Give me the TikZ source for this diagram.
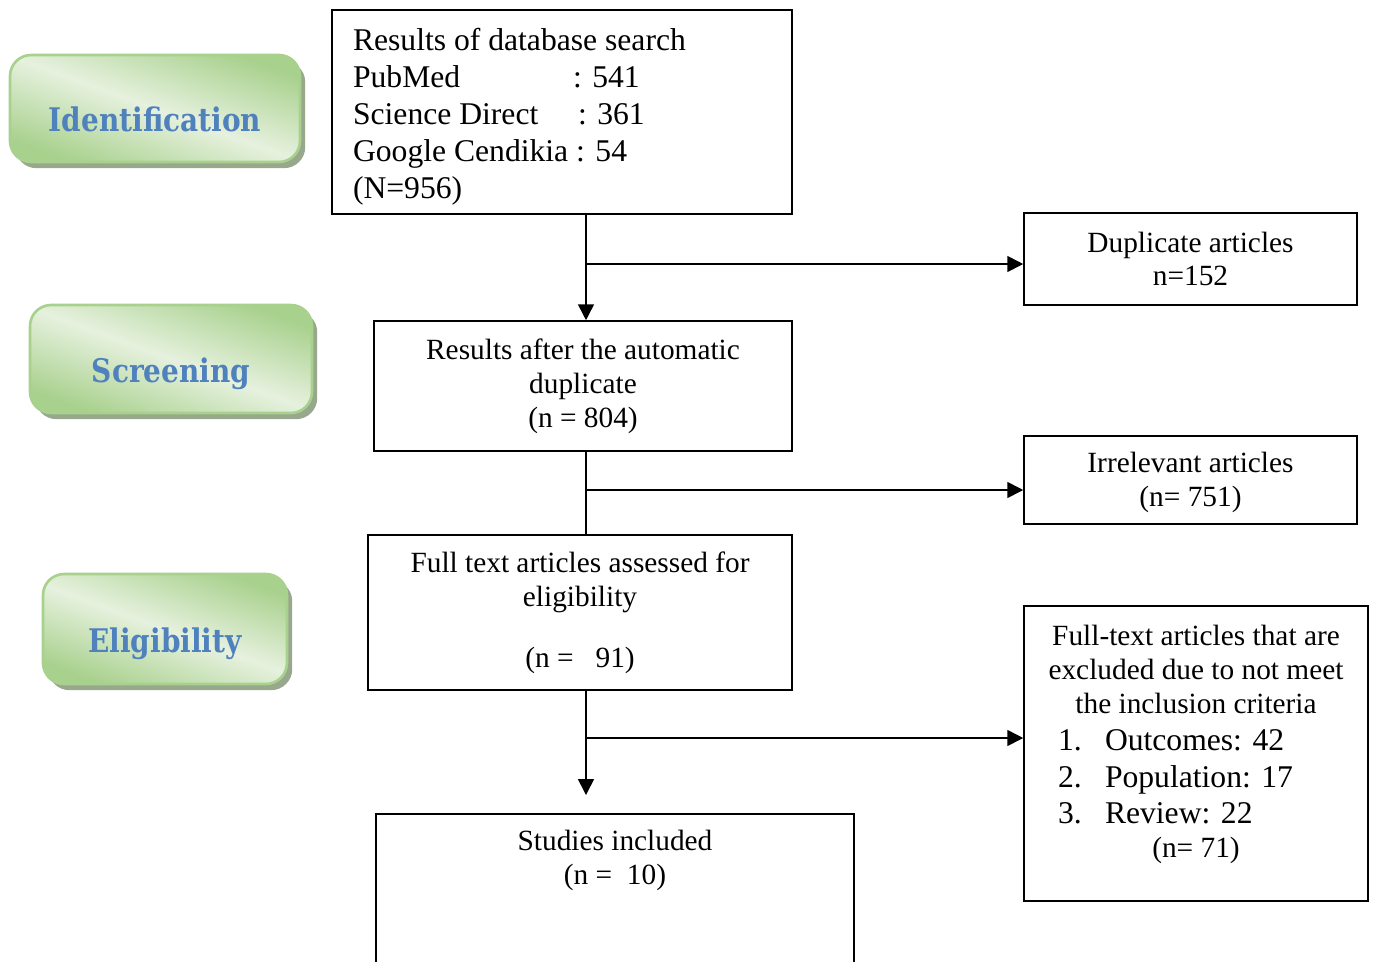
\documentclass[tikz,border=0pt]{standalone}
\usepackage{fontspec}
\setmainfont{Liberation Serif}
\newfontfamily\phasefont[FakeStretch=0.86]{DejaVu Serif}
\usetikzlibrary{calc,positioning,arrows.meta,shadows}
\definecolor{leaf}{HTML}{A9D18E}
\definecolor{pale}{HTML}{E6F1DE}
\definecolor{moss}{HTML}{98A88C}
\definecolor{steel}{HTML}{4F81BD}
\newcommand{\bigtxt}{\fontsize{18}{21}\selectfont}
\newcommand{\smalltxt}{\fontsize{16.7}{19.3}\selectfont}

\tikzset{
  phase/.style={rounded corners=12pt,draw=leaf,line width=1.5pt,
    top color=leaf,bottom color=leaf,middle color=pale,shading angle=-20,
    drop shadow={fill=moss,opacity=1,shadow xshift=3pt,shadow yshift=-3.5pt},
    font=\phasefont\bfseries\fontsize{18.5}{22}\selectfont,text=steel,
    text height=0.92cm,text depth=0pt},
  flowbox/.style={draw,line width=0.9pt,align=center,inner sep=0pt,fill=white},
  feed/.style={line width=0.9pt,-{Triangle[length=9pt,width=9pt]}},
  rail/.style={line width=0.9pt},
}

\begin{document}
\begin{tikzpicture}[x=0.02cm,y=-0.02cm]
\fill[white] (0,0) rectangle (1373,961);
\useasboundingbox (0,0) rectangle (1373,961);
\clip (0,0) rectangle (1373,961);

% phase labels
\node[phase,minimum width=5.8cm,minimum height=2.14cm] (ident) at (155,108.5) {Identification};
\node[phase,minimum width=5.64cm,minimum height=2.16cm] (screen) at (171,359) {Screening};
\node[phase,minimum width=4.88cm,minimum height=2.2cm] (elig) at (165,629) {Eligibility};

% main column
\node[flowbox,minimum width=9.2cm,minimum height=4.08cm,font=\bigtxt] (search) at (562,112)
  {\parbox{8.36cm}{\raggedright\rule{0pt}{0.64cm}Results of database search\\
   \makebox[4.4cm][l]{PubMed}: 541\\
   \makebox[4.5cm][l]{Science Direct}: 361\\
   Google Cendikia : 54\\
   (N=956)}};
\node[flowbox,minimum width=8.36cm,minimum height=2.6cm,font=\smalltxt] (dedup) at (583,386)
  {Results after the automatic\\ duplicate\\ (n = 804)};
\node[flowbox,minimum width=8.48cm,minimum height=3.1cm,font=\smalltxt] (full) at (580,612.5)
  {Full text articles assessed for\\ eligibility\\[0.54cm] (n = \ \ 91)};
\node[flowbox,minimum width=9.56cm,anchor=north,font=\smalltxt] (incl) at (615,813)
  {\parbox[c][4cm][t]{9cm}{\centering\vspace*{0.32cm}Studies included\\ (n = \ 10)}};

% side boxes
\node[flowbox,minimum width=6.66cm,minimum height=1.84cm,font=\smalltxt] (dup) at (1190.5,259)
  {Duplicate articles\\ n=152};
\node[flowbox,minimum width=6.66cm,minimum height=1.76cm,font=\smalltxt] (irrel) at (1190.5,480)
  {\rule{0pt}{0.5cm}Irrelevant articles\\ (n= 751)};
\node[flowbox,minimum width=6.88cm,minimum height=5.9cm,font=\smalltxt] (excl) at (1196,753.5)
  {\parbox[c][5.4cm][t]{6.48cm}{\centering\vspace*{0.13cm}
   Full-text articles that are\\ excluded due to not meet\\ the inclusion criteria\par
   {\bigtxt\raggedright
   \hspace*{0.48cm}\makebox[0.94cm][l]{1.}Outcomes: 42\\
   \hspace*{0.48cm}\makebox[0.94cm][l]{2.}Population: 17\\
   \hspace*{0.48cm}\makebox[0.94cm][l]{3.}Review: 22\par}
   (n= 71)}};

% connectors
\coordinate (spine) at (586,0);
\coordinate (b1) at (586,264);
\coordinate (b2) at (586,490);
\coordinate (b3) at (586,738);
\draw[feed] (search.south -| spine) -- (dedup.north -| spine);
\draw[rail] (dedup.south -| spine) -- (full.north -| spine);
\draw[feed] (full.south -| spine) -- ([yshift=0.36cm]incl.north -| spine);
\draw[feed] (b1) -- (b1 -| dup.west);
\draw[feed] (b2) -- (b2 -| irrel.west);
\draw[feed] (b3) -- (b3 -| excl.west);
\end{tikzpicture}
\end{document}
